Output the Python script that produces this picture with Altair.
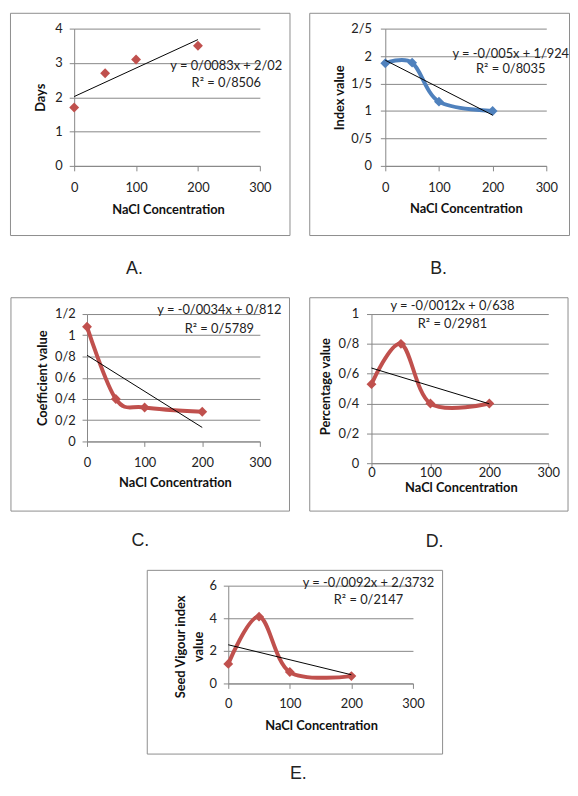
import altair as alt
import pandas as pd

# ---------------- data ----------------
conc = [0, 50, 100, 200]
days = [1.7, 2.7, 3.1, 3.5]
index_value = [1.87, 1.88, 1.17, 1.0]
coef_value = [1.08, 0.40, 0.32, 0.28]
pct_value = [0.53, 0.80, 0.40, 0.40]
vigour_value = [1.2, 4.1, 0.7, 0.45]

trend_x = [0, 200]
trend_a = [2.02, 3.68]
trend_b = [1.924, 0.924]
trend_c = [0.812, 0.132]
trend_d = [0.638, 0.398]
trend_e = [2.3732, 0.5332]

x_ticks = [0, 100, 200, 300]
ticks_a = [0, 1, 2, 3, 4]
ticks_b = [0, 0.5, 1, 1.5, 2, 2.5]
ticks_c = [0, 0.2, 0.4, 0.6, 0.8, 1, 1.2]
ticks_d = [0, 0.2, 0.4, 0.6, 0.8, 1]
ticks_e = [0, 2, 4, 6]

eq_a = ["y = 0/0083x + 2/02", "R² = 0/8506"]
eq_b = ["y = -0/005x + 1/924", "R² = 0/8035"]
eq_c = ["y = -0/0034x + 0/812", "R² = 0/5789"]
eq_d = ["y = -0/0012x + 0/638", "R² = 0/2981"]
eq_e = ["y = -0/0092x + 2/3732", "R² = 0/2147"]

x_title = "NaCl Concentration"
y_titles = ["Days", "Index value", "Coefficient value", "Percentage value",
            ["Seed Vigour index", "value"]]
panel_labels = ["A.", "B.", "C.", "D.", "E."]

RED = "#C0504D"
BLUE = "#4F81BD"
GRAY = "#868686"
TXT = "#222222"
one = pd.DataFrame({"k": [0]})


def spacer():
    return alt.Chart(one).mark_rect(opacity=0).encode(
        x=alt.value(0), x2=alt.value(1), y=alt.value(0), y2=alt.value(1)
    ).properties(width=1, height=1)


def panel(values, trend, yticks, ytitle, eq, label, color, smooth, g):
    xs = alt.Scale(domain=[0, 300], nice=False)
    ys = alt.Scale(domain=[0, yticks[-1]], nice=False)
    xa = alt.Axis(values=x_ticks, format="d", grid=False, title=x_title,
                  titleX=g["tx"], titleY=g["ty"], titleAlign="center",
                  titleBaseline="middle", tickSize=g.get("xtick", 5),
                  labelPadding=g["xpad"], labelFlush=False)
    ya = alt.Axis(values=yticks, grid=True, title=ytitle,
                  titleX=g["yx"], titleY=g["yy"], titleAlign="center",
                  titleBaseline="middle", titleLineHeight=18, tickSize=5,
                  labelPadding=g["ypad"], labelFlush=False,
                  labelExpr="replace(toString(datum.value), '.', '/')")
    X = alt.X("x:Q", scale=xs, axis=xa)
    Y = alt.Y("y:Q", scale=ys, axis=ya)
    df = pd.DataFrame({"x": conc, "y": values})
    tdf = pd.DataFrame({"x": trend_x, "y": trend})
    cx1, cx2, cy1, cy2 = g["cell"]
    bx1, bx2, by1, by2 = g["border"]
    layers = [
        alt.Chart(one).mark_rect(opacity=0).encode(
            x=alt.value(cx1), x2=alt.value(cx2), y=alt.value(cy1), y2=alt.value(cy2)),
        alt.Chart(one).mark_rect(fill="transparent", stroke="#8c8c8c", strokeWidth=1).encode(
            x=alt.value(bx1), x2=alt.value(bx2), y=alt.value(by1), y2=alt.value(by2)),
    ]
    if smooth:
        layers.append(alt.Chart(df).mark_line(color=color, strokeWidth=4,
                                              interpolate="cardinal").encode(x=X, y=Y))
    layers.append(alt.Chart(df).mark_point(shape="diamond", filled=True, size=100,
                                           color=color, opacity=1).encode(x=X, y=Y))
    layers.append(alt.Chart(tdf).mark_line(color="black", strokeWidth=1).encode(x=X, y=Y))
    for line, yy in zip(eq, g["eqy"]):
        layers.append(alt.Chart(one).mark_text(text=line, font="Lato", fontSize=13,
                                               color=TXT, align="center",
                                               baseline="middle").encode(
            x=alt.value(g["eqx"]), y=alt.value(yy)))
    layers.append(alt.Chart(one).mark_text(text=label, font="Liberation Sans", fontSize=18,
                                           color=TXT, align="center",
                                           baseline="alphabetic").encode(
        x=alt.value(g["lab"][0]), y=alt.value(g["lab"][1])))
    return alt.layer(*layers).properties(width=g["w"], height=g["h"])


gA = dict(w=188, h=139, tx=95, ty=44, yx=-34.5, yy=69.5, xpad=11, ypad=7,
          cell=(-66, 238, -16, 272), border=(-64.5, 218.5, -15.5, 209.5),
          eqx=154, eqy=(38, 55), lab=(61, 248))
gB = dict(w=163, h=139, tx=81.5, ty=43, yx=-46, yy=69.5, xpad=11, ypad=9,
          cell=(-77, 187, -16, 272), border=(-76.5, 186.5, -15.5, 209.5),
          eqx=127, eqy=(25.5, 40.5), lab=(54, 248))
gC = dict(w=175, h=129, tx=89, ty=42, yx=-45, yy=64.5, xpad=10, ypad=7,
          cell=(-79, 225, -17, 259), border=(-77, 205, -16.5, 199.5),
          eqx=134, eqy=(-4, 15), lab=(54, 235))
gD = dict(w=179, h=151, tx=90.5, ty=25, yx=-46, yy=73, xpad=-1, ypad=8, xtick=4,
          cell=(-63, 201, -17, 259), border=(-62.5, 199, -16.5, 199.5),
          eqx=82, eqy=(-8, 10), lab=(64, 236))
gE = dict(w=187, h=99, tx=94, ty=43, yx=-48.5, yy=61.5, xpad=9, ypad=7,
          cell=(-222, 346, -16, 196), border=(-82, 217, -15.5, 170.5),
          eqx=142, eqy=(-3, 15), lab=(71, 196))

pA = panel(days, trend_a, ticks_a, y_titles[0], eq_a, panel_labels[0], RED, False, gA)
pB = panel(index_value, trend_b, ticks_b, y_titles[1], eq_b, panel_labels[1], BLUE, True, gB)
pC = panel(coef_value, trend_c, ticks_c, y_titles[2], eq_c, panel_labels[2], RED, True, gC)
pD = panel(pct_value, trend_d, ticks_d, y_titles[3], eq_d, panel_labels[3], RED, True, gD)
pE = panel(vigour_value, trend_e, ticks_e, y_titles[4], eq_e, panel_labels[4], RED, True, gE)

row1 = alt.hconcat(spacer(), pA, pB, spacing=0)
row2 = alt.hconcat(spacer(), pC, pD, spacing=0)
row3 = alt.hconcat(spacer(), pE, spacing=0)

chart = (
    alt.vconcat(row1, row2, row3, spacing=0)
    .properties(padding=0)
    .configure_view(strokeWidth=0)
    .configure_axis(
        domainColor=GRAY, tickColor=GRAY, gridColor=GRAY,
        domainWidth=1, tickWidth=1, gridWidth=1,
        labelColor=TXT, titleColor="#111111",
        labelFont="Lato", titleFont="Lato",
        labelFontSize=13, titleFontSize=13, titleFontWeight="bold",
    )
)

chart.save("out.html", embed_options={"renderer": "svg", "actions": False})
